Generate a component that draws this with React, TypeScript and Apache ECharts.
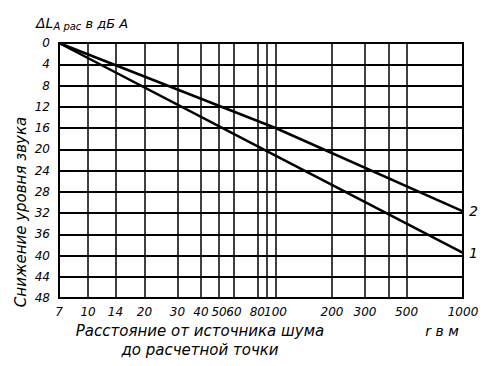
import React, { useEffect, useRef } from "react";
import * as echarts from "echarts";

const xTickLabels = [7, 10, 14, 20, 30, 40, 50, 60, 80, 100, 200, 300, 500, 1000];
const xGridValues = [10, 14, 20, 30, 40, 50, 60, 80, 90, 100, 200, 300, 400, 500];
const yMin = 0;
const yMax = 48;
const yStep = 4;
const curve1 = [[7, 0], [100, 21.2], [1000, 39.5]];
const curve2 = [[7, 0], [100, 16], [1000, 31.7]];
const curveNames = ["1", "2"];
const yAxisTitle = "Снижение уровня звука";
const xAxisTitle1 = "Расстояние от источника шума";
const xAxisTitle2 = "до расчетной точки";
const xUnit = "r в м";

export default function App() {
  const ref = useRef<HTMLDivElement>(null);
  useEffect(() => {
    const chart = echarts.init(ref.current!, null, { renderer: "svg" });
    const font = "'DejaVu Sans', sans-serif";
    const txt = { color: "#000", fontStyle: "italic", fontFamily: font };
    chart.setOption({
      animation: false,
      backgroundColor: "#fff",
      grid: { left: 59, right: 36, top: 43, bottom: 68, show: true, borderColor: "#000", borderWidth: 2 },
      xAxis: {
        type: "log",
        logBase: 10,
        min: 7,
        max: 1000,
        axisLine: { show: false },
        axisTick: { show: false },
        splitLine: { show: false },
        axisLabel: {
          customValues: xTickLabels,
          formatter: (v: number) => String(v),
          ...txt,
          fontSize: 12,
          margin: 8,
        },
      },
      yAxis: {
        type: "value",
        inverse: true,
        min: yMin,
        max: yMax,
        interval: yStep,
        axisLine: { show: false },
        axisTick: { show: false },
        splitLine: { lineStyle: { color: "#000", width: 2 } },
        axisLabel: { ...txt, fontSize: 12, margin: 9 },
      },
      series: [
        {
          type: "line",
          name: curveNames[0],
          data: curve1,
          symbol: "none",
          lineStyle: { color: "#000", width: 2.5 },
          endLabel: { show: true, formatter: curveNames[0], ...txt, fontSize: 14, distance: 6 },
          markLine: {
            silent: true,
            symbol: "none",
            label: { show: false },
            lineStyle: { color: "#000", width: 1.5, type: "solid" },
            data: xGridValues.map((v) => ({ xAxis: v })),
          },
        },
        {
          type: "line",
          name: curveNames[1],
          data: curve2,
          symbol: "none",
          lineStyle: { color: "#000", width: 2.5 },
          endLabel: { show: true, formatter: curveNames[1], ...txt, fontSize: 14, distance: 6 },
        },
      ],
      graphic: [
        {
          type: "text",
          left: 36,
          top: 16,
          style: {
            text: "{a|ΔL}{b|A рас}{c| в дБ А}",
            rich: {
              a: { ...txt, fontSize: 14 },
              b: { ...txt, fontSize: 10, padding: [6, 0, 0, 0] },
              c: { ...txt, fontSize: 13 },
            },
          },
        },
        {
          type: "text",
          x: 21,
          y: 212,
          rotation: Math.PI / 2,
          style: { text: yAxisTitle, ...txt, fontSize: 15, align: "center", verticalAlign: "middle", fill: "#000" },
        },
        {
          type: "text",
          x: 200,
          y: 331,
          style: { text: xAxisTitle1, ...txt, fontSize: 15, align: "center", verticalAlign: "middle", fill: "#000" },
        },
        {
          type: "text",
          x: 200,
          y: 350,
          style: { text: xAxisTitle2, ...txt, fontSize: 15, align: "center", verticalAlign: "middle", fill: "#000" },
        },
        {
          type: "text",
          x: 442,
          y: 331,
          style: { text: xUnit, ...txt, fontSize: 14, align: "center", verticalAlign: "middle", fill: "#000" },
        },
      ],
    });
    return () => chart.dispose();
  }, []);
  return (
    <div
      ref={ref}
      style={{ position: "fixed", left: 0, top: 0, width: 499, height: 366 }}
    />
  );
}
